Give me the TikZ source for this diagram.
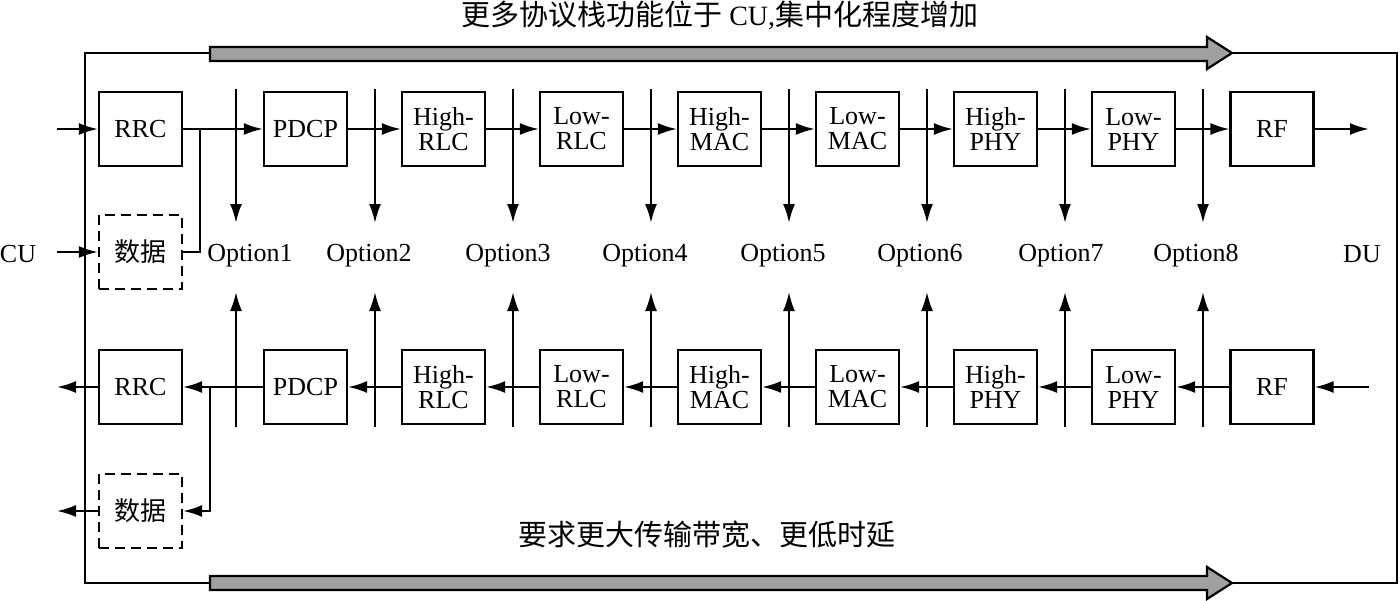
\documentclass[tikz,border=0pt]{standalone}
\usepackage{fontspec}
\setmainfont{Liberation Serif}
\newfontfamily\cjk{Noto Sans CJK SC}
\usetikzlibrary{arrows.meta}
\definecolor{bigfill}{HTML}{A0A0A0}
\begin{document}
\begin{tikzpicture}[x=1pt,y=-1pt,line width=2.2pt,
  box/.style={draw, minimum width=83pt, minimum height=74pt, inner sep=0pt, align=center, font=\fontsize{26}{25}\selectfont},
  dbox/.style={box, dash pattern=on 10pt off 6pt},
  arr/.style={-{Latex[length=19pt,width=12pt]}},
  lbl/.style={font=\fontsize{26}{26}\selectfont, inner sep=0pt},
  cjklbl/.style={font=\cjk\fontsize{29}{29}\selectfont, inner sep=0pt},
  big/.style={draw, line width=2.2pt, fill=bigfill}]
\useasboundingbox (0,0) rectangle (1400,600);
% frame
\draw (85,53) rectangle (1397,583);
% big grey arrows
\draw[big] (210,47) -- (1207,47) -- (1207,37) -- (1232,53) -- (1207,69) -- (1207,61) -- (210,61) -- cycle;
\draw[big] (210,576) -- (1207,576) -- (1207,567) -- (1232,583) -- (1207,599) -- (1207,590) -- (210,590) -- cycle;
% titles
\node[cjklbl] (title) at (720,15) {更多协议栈功能位于\ {\rmfamily\fontsize{28}{28}\selectfont CU,}集中化程度增加};
\node[cjklbl] (req) at (707,535) {要求更大传输带宽、更低时延};
% top row
\node[box] (t1) at (140.5,129) {RRC};
\node[box] (t2) at (305.5,129) {PDCP};
\node[box] (t3) at (443.5,129) {High-\\RLC};
\node[box] (t4) at (581.5,129) {Low-\\RLC};
\node[box] (t5) at (719.5,129) {High-\\MAC};
\node[box] (t6) at (857.5,129) {Low-\\MAC};
\node[box] (t7) at (995.5,129) {High-\\PHY};
\node[box] (t8) at (1133.5,129) {Low-\\PHY};
\node[box] (t9) at (1272,129) {RF};
\node[dbox,font=\cjk\fontsize{26}{26}\selectfont] (td) at (140.5,252) {数据};
% bottom row
\node[box] (b1) at (140.5,387) {RRC};
\node[box] (b2) at (305.5,387) {PDCP};
\node[box] (b3) at (443.5,387) {High-\\RLC};
\node[box] (b4) at (581.5,387) {Low-\\RLC};
\node[box] (b5) at (719.5,387) {High-\\MAC};
\node[box] (b6) at (857.5,387) {Low-\\MAC};
\node[box] (b7) at (995.5,387) {High-\\PHY};
\node[box] (b8) at (1133.5,387) {Low-\\PHY};
\node[box] (b9) at (1272,387) {RF};
\node[dbox,font=\cjk\fontsize{26}{26}\selectfont] (bd) at (140.5,511) {数据};
% side labels
\node[lbl] (cu) at (18,254) {CU};
\node[lbl] (du) at (1362,254) {DU};
% option labels
\node[lbl] (o1) at (250,256) {Option1};
\node[lbl] (o2) at (369,256) {Option2};
\node[lbl] (o3) at (508,256) {Option3};
\node[lbl] (o4) at (645,256) {Option4};
\node[lbl] (o5) at (783,256) {Option5};
\node[lbl] (o6) at (920,256) {Option6};
\node[lbl] (o7) at (1061,256) {Option7};
\node[lbl] (o8) at (1196,256) {Option8};
% option split lines
\foreach \i/\x in {1/236,2/375,3/513,4/651,5/789,6/927,7/1065,8/1203}{
  \coordinate (ta\i) at (\x,89);
  \coordinate (tb\i) at (\x,223);
  \coordinate (ba\i) at (\x,427);
  \coordinate (bb\i) at (\x,292);
  \draw[arr] (ta\i) -- (tb\i);
  \draw[arr] (ba\i) -- (bb\i);
}
% io coordinates
\coordinate (inA) at (57,129);
\coordinate (inB) at (57,252);
\coordinate (outA) at (57,387);
\coordinate (outB) at (57,511);
\coordinate (rfout) at (1369,129);
\coordinate (rfin) at (1369,387);
\coordinate (j1) at (200,129);
\coordinate (j2) at (210,387);
% top flow
\draw[arr] (inA) -- (t1.west);
\draw[arr] (inB) -- (td.west);
\foreach \a/\b in {1/2,2/3,3/4,4/5,5/6,6/7,7/8,8/9}{
  \draw[arr] (t\a.east) -- (t\b.west);
  \draw[arr] (b\b.west) -- (b\a.east);
}
\draw (td.east) -| (j1);
\draw[arr] (t9.east) -- (rfout);
% bottom flow
\draw[arr] (rfin) -- (b9.east);
\draw[arr] (b1.west) -- (outA);
\draw[arr] (bd.west) -- (outB);
\draw[arr] (j2) |- (bd.east);
\end{tikzpicture}
\end{document}
